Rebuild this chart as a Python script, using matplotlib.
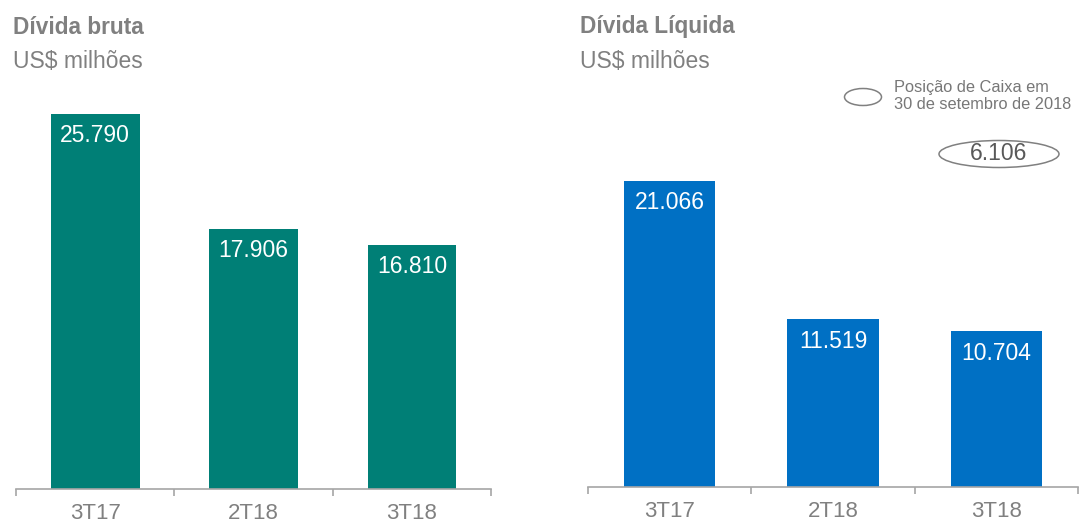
import matplotlib.pyplot as plt
from matplotlib.patches import Ellipse

plt.rcParams['font.family'] = ['Liberation Sans', 'DejaVu Sans']

# data
periodos = ['3T17', '2T18', '3T18']
divida_bruta = [25790, 17906, 16810]
divida_liquida = [21066, 11519, 10704]
caixa = 6106

W, H = 1080, 522
GRAY = '#808080'
TEAL = '#007F76'
BLUE = '#0070C4'


def fmt(v):
    return '{:,}'.format(v).replace(',', '.')


def px_axes(fig, x0, x1, y_base, y_top):
    # pixel box -> figure fraction
    return fig.add_axes([x0 / W, 1 - y_base / H, (x1 - x0) / W, (y_base - y_top) / H])


def bar_panel(ax, values, color):
    ax.bar(range(len(periodos)), values, width=0.56, color=color)
    ax.set_xlim(-0.5, 2.5)
    ax.set_ylim(0, 26750)
    for s in ['top', 'right', 'left']:
        ax.spines[s].set_visible(False)
    ax.spines['bottom'].set_color('#a6a6a6')
    ax.spines['bottom'].set_linewidth(1.2)
    ax.set_yticks([])
    ax.set_xticks(range(len(periodos)))
    ax.set_xticklabels(periodos)
    ax.tick_params(axis='x', which='major', length=0, pad=10, labelsize=16, labelcolor=GRAY)
    ax.set_xticks([-0.5, 0.5, 1.5, 2.5], minor=True)
    ax.tick_params(axis='x', which='minor', length=5, width=1.2, color='#a6a6a6', direction='out')
    for i, v in enumerate(values):
        ax.annotate(fmt(v), (i, v), xytext=(0, -22), textcoords='offset pixels',
                    ha='center', va='center', color='white', fontsize=16.5)


fig = plt.figure(figsize=(W / 100, H / 100), dpi=100)

ax1 = px_axes(fig, 16, 491, 489, 100)
bar_panel(ax1, divida_bruta, TEAL)

ax2 = px_axes(fig, 588, 1078, 487, 98)
bar_panel(ax2, divida_liquida, BLUE)

# titles
fig.text(13 / W, 1 - 27 / H, 'Dívida bruta', fontsize=16.3, fontweight='bold',
         color=GRAY, ha='left', va='center')
fig.text(13 / W, 1 - 62 / H, 'US$ milhões', fontsize=16.5, color=GRAY, ha='left', va='center')
fig.text(580 / W, 1 - 27 / H, 'Dívida Líquida', fontsize=16.3, fontweight='bold',
         color=GRAY, ha='left', va='center')
fig.text(580 / W, 1 - 62 / H, 'US$ milhões', fontsize=16.5, color=GRAY, ha='left', va='center')

# cash position legend
fig.add_artist(Ellipse((863 / W, 1 - 97 / H), 37 / W, 17 / H, transform=fig.transFigure,
                       fill=False, edgecolor=GRAY, linewidth=1.1))
fig.text(894 / W, 1 - 96 / H, 'Posição de Caixa em\n30 de setembro de 2018', fontsize=11.8,
         color='#777777', ha='left', va='center', linespacing=1.15)
fig.add_artist(Ellipse((999 / W, 1 - 154 / H), 120 / W, 27 / H, transform=fig.transFigure,
                       fill=False, edgecolor=GRAY, linewidth=1.1))
fig.text(999 / W, 1 - 154 / H, fmt(caixa), fontsize=16.5, color='#595959', ha='center', va='center')

fig.savefig('out.png', dpi=100)
